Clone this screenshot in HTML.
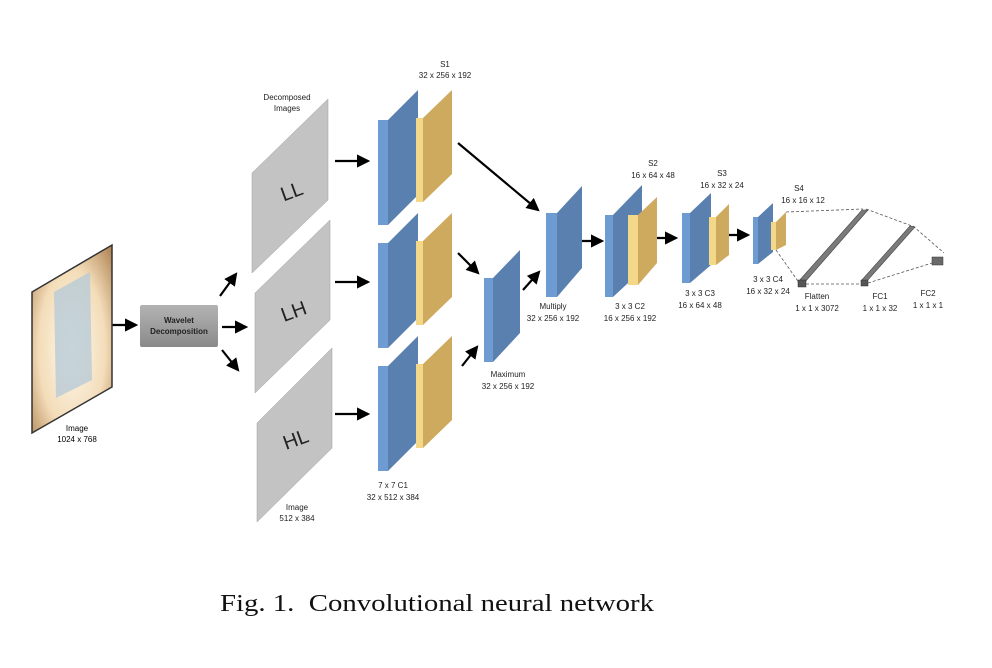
<!DOCTYPE html>
<html><head><meta charset="utf-8"><style>html,body{margin:0;padding:0;background:#fff}svg{display:block}</style></head>
<body>
<svg width="992" height="668" viewBox="0 0 992 668" xmlns="http://www.w3.org/2000/svg" font-family="Liberation Sans, sans-serif">
<defs>
<radialGradient id="img" cx="0.5" cy="0.55" r="0.7"><stop offset="0" stop-color="#fffaf0"/><stop offset="0.6" stop-color="#f3dcb8"/><stop offset="1" stop-color="#b58b5c"/></radialGradient>
<linearGradient id="wv" x1="0" y1="0" x2="0" y2="1"><stop offset="0" stop-color="#b3b3b3"/><stop offset="1" stop-color="#8a8a8a"/></linearGradient>
<marker id="ah" markerWidth="6" markerHeight="6" refX="5" refY="3" orient="auto" markerUnits="strokeWidth"><path d="M0,0 L6,3 L0,6 z" fill="#000"/></marker>
</defs>
<g fill="none" stroke="#000" stroke-width="2.2" marker-end="url(#ah)">
<line x1="112" y1="325" x2="136" y2="325"/>
<line x1="220" y1="296" x2="236" y2="274"/>
<line x1="222" y1="327" x2="246" y2="327"/>
<line x1="222" y1="350" x2="238" y2="370"/>
<line x1="335" y1="161" x2="368" y2="161"/>
<line x1="335" y1="282" x2="368" y2="282"/>
<line x1="335" y1="414" x2="368" y2="414"/>
<line x1="458" y1="143" x2="538" y2="210"/>
<line x1="458" y1="253" x2="478" y2="273"/>
<line x1="462" y1="366" x2="477" y2="347"/>
<line x1="523" y1="290" x2="539" y2="272"/>
<line x1="576" y1="241" x2="602" y2="241"/>
<line x1="651" y1="238" x2="676" y2="238"/>
<line x1="722" y1="235" x2="748" y2="235"/>
</g>
<polygon points="32,292 112,245 112,387 32,433" fill="url(#img)" stroke="#333" stroke-width="1.5"/>
<polygon points="54,292 90,272 92,380 56,398" fill="#b8cbd6" opacity="0.8"/>
<text x="77" y="431" font-size="8" text-anchor="middle">Image</text>
<text x="77" y="442" font-size="8" text-anchor="middle">1024 x 768</text>
<rect x="140" y="305" width="78" height="42" rx="2" fill="url(#wv)"/>
<text x="179" y="323" font-size="8" font-weight="bold" text-anchor="middle" fill="#222">Wavelet</text>
<text x="179" y="334" font-size="8" font-weight="bold" text-anchor="middle" fill="#222">Decomposition</text>
<g fill="#c3c3c3" stroke="#a0a0a0" stroke-width="0.5">
<polygon points="252,173 328,99 328,200 252,273"/>
<polygon points="255,293 330,220 330,320 255,393"/>
<polygon points="257,423 332,348 332,448 257,522"/>
</g>
<g font-size="20" fill="#222" text-anchor="middle">
<text x="292" y="198" transform="rotate(-20 292 192)">LL</text>
<text x="294" y="318" transform="rotate(-20 294 312)">LH</text>
<text x="296" y="446" transform="rotate(-20 296 440)">HL</text>
</g>
<g font-size="8" text-anchor="middle" fill="#222">
<text x="287" y="100">Decomposed</text><text x="287" y="111">Images</text>
<text x="297" y="510">Image</text><text x="297" y="521">512 x 384</text>
<text x="445" y="67">S1</text><text x="445" y="78">32 x 256 x 192</text>
<text x="393" y="488">7 x 7 C1</text><text x="393" y="500">32 x 512 x 384</text>
<text x="508" y="377">Maximum</text><text x="508" y="389">32 x 256 x 192</text>
<text x="553" y="309">Multiply</text><text x="553" y="321">32 x 256 x 192</text>
<text x="653" y="166">S2</text><text x="653" y="178">16 x 64 x 48</text>
<text x="630" y="309">3 x 3 C2</text><text x="630" y="321">16 x 256 x 192</text>
<text x="722" y="176">S3</text><text x="722" y="188">16 x 32 x 24</text>
<text x="700" y="296">3 x 3 C3</text><text x="700" y="308">16 x 64 x 48</text>
<text x="799" y="191">S4</text><text x="803" y="203">16 x 16 x 12</text>
<text x="768" y="282">3 x 3 C4</text><text x="768" y="294">16 x 32 x 24</text>
<text x="817" y="299">Flatten</text><text x="817" y="311">1 x 1 x 3072</text>
<text x="880" y="299">FC1</text><text x="880" y="311">1 x 1 x 32</text>
<text x="928" y="296">FC2</text><text x="928" y="308">1 x 1 x 1</text>
</g>
<g id="c1">
<rect x="378" y="120" width="10" height="105" fill="#6f9bd3"/>
<polygon points="388,120 418,90 418,195 388,225" fill="#5a80b0"/>
<rect x="416" y="118" width="7" height="84" fill="#f3d88a"/>
<polygon points="423,118 452,90 452,174 423,202" fill="#cdaa5e"/>
</g>
<use href="#c1" transform="translate(0,123)"/>
<use href="#c1" transform="translate(0,246)"/>
<rect x="484" y="278" width="9" height="84" fill="#6f9bd3"/>
<polygon points="493,278 520,250 520,333 493,362" fill="#5a80b0"/>
<rect x="546" y="213" width="11" height="84" fill="#6f9bd3"/>
<polygon points="557,213 582,186 582,268 557,297" fill="#5a80b0"/>
<rect x="605" y="215" width="8" height="82" fill="#6f9bd3"/>
<polygon points="613,215 642,185 642,270 613,297" fill="#5a80b0"/>
<rect x="628" y="215" width="10" height="70" fill="#f3d88a"/>
<polygon points="638,215 657,197 657,263 638,285" fill="#cdaa5e"/>
<rect x="682" y="213" width="8" height="70" fill="#6f9bd3"/>
<polygon points="690,213 711,193 711,265 690,283" fill="#5a80b0"/>
<rect x="709" y="217" width="7" height="48" fill="#f3d88a"/>
<polygon points="716,217 729,204 729,255 716,265" fill="#cdaa5e"/>
<rect x="753" y="217" width="5" height="47" fill="#6f9bd3"/>
<polygon points="758,217 773,203 773,252 758,264" fill="#5a80b0"/>
<rect x="771" y="222" width="5" height="28" fill="#f3d88a"/>
<polygon points="776,222 786,212 786,245 776,250" fill="#cdaa5e"/>
<g stroke="#555" stroke-width="0.8" stroke-dasharray="3,2" fill="none">
<line x1="786" y1="212" x2="863" y2="209"/>
<line x1="776" y1="250" x2="800" y2="284"/>
<line x1="866" y1="209" x2="912" y2="226"/>
<line x1="806" y1="284" x2="862" y2="284"/>
<line x1="913" y1="226" x2="944" y2="253"/>
<line x1="868" y1="283" x2="932" y2="263"/>
</g>
<polygon points="798,282 862,210 868,210 805,282" fill="#7a7a7a" stroke="#444" stroke-width="0.6"/>
<rect x="798" y="280" width="8" height="7" fill="#555" stroke="#333" stroke-width="0.5"/>
<polygon points="861,281 910,226 915,227 867,281" fill="#7a7a7a" stroke="#444" stroke-width="0.6"/>
<rect x="861" y="280" width="7" height="6" fill="#555" stroke="#333" stroke-width="0.5"/>
<rect x="932" y="257" width="11" height="8" fill="#6a6a6a" stroke="#333" stroke-width="0.5"/>
<text x="220" y="611" font-family="Liberation Serif, serif" font-size="24" textLength="434" lengthAdjust="spacingAndGlyphs" fill="#111" xml:space="preserve">Fig. 1.  Convolutional neural network</text>
</svg>
</body></html>
